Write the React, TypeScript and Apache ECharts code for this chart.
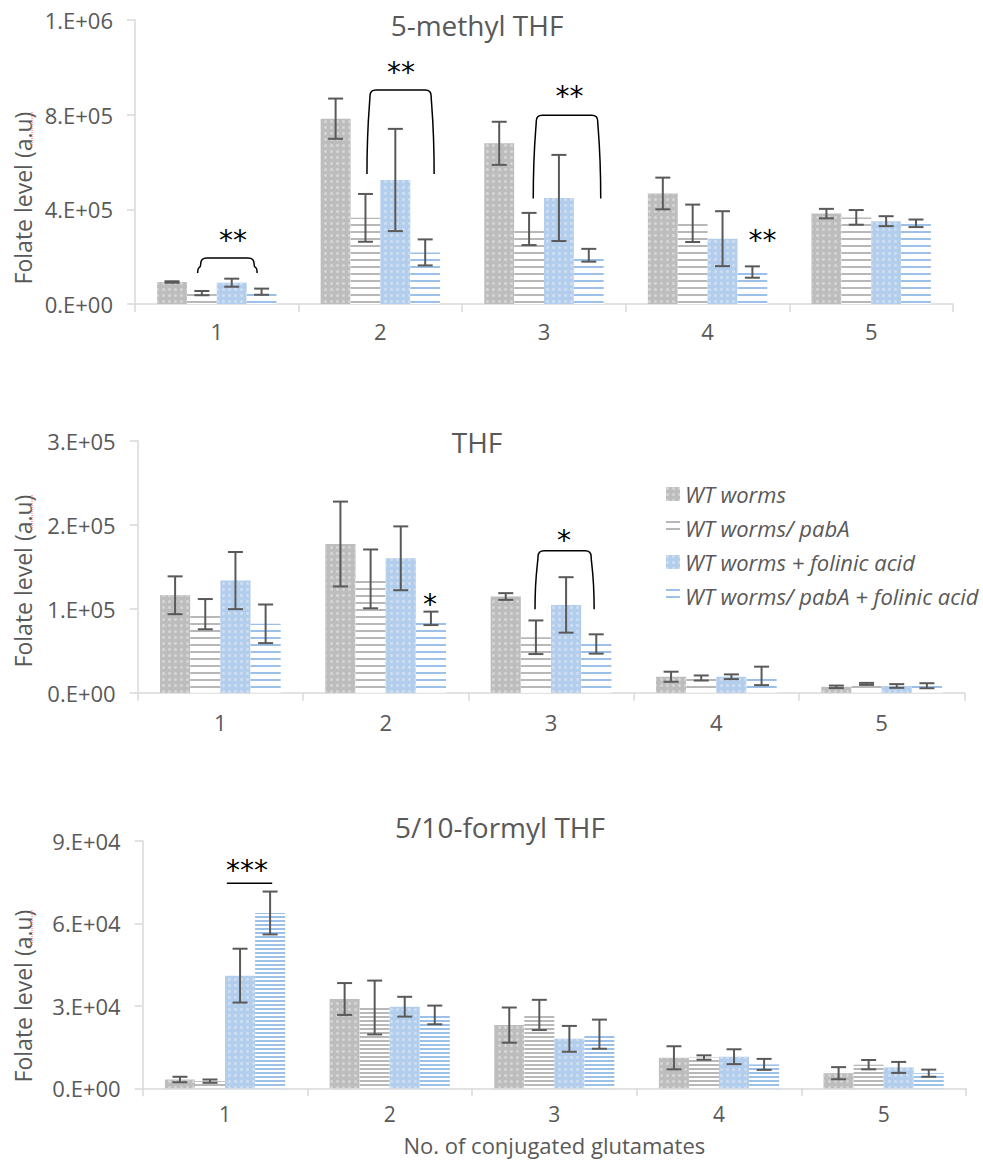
import React, { useEffect, useRef } from 'react';
import * as echarts from 'echarts';

const categories = ['1', '2', '3', '4', '5'];
const seriesNames = ['WT worms', 'WT worms/ pabA', 'WT worms + folinic acid', 'WT worms/ pabA + folinic acid'];
const yTicksMax = [1200000, 300000, 90000];
const yTicksInterval = [400000, 100000, 30000];
const chartTitles = ['5-methyl THF', 'THF', '5/10-formyl THF'];

// 5-methyl THF
const methylWT = [93000, 783000, 679000, 467000, 382000];
const methylWTErr = [3000, 85000, 91000, 67000, 20000];
const methylPabA = [46000, 364000, 317000, 341000, 366000];
const methylPabAErr = [9000, 101000, 68000, 79000, 31000];
const methylFA = [90000, 524000, 448000, 276000, 350000];
const methylFAErr = [17000, 216000, 182000, 116000, 21000];
const methylPabAFA = [52000, 218000, 206000, 135000, 341000];
const methylPabAFAErr = [13000, 55000, 27000, 24000, 16000];

// THF
const thfWT = [116000, 177000, 114500, 19000, 7000];
const thfWTErr = [22500, 50500, 4000, 6000, 1500];
const thfPabA = [93500, 135500, 66000, 17500, 10500];
const thfPabAErr = [18000, 35000, 20000, 3000, 1200];
const thfFA = [133500, 160000, 104500, 19000, 8000];
const thfFAErr = [34000, 38000, 33000, 2800, 2200];
const thfPabAFA = [82000, 88500, 58000, 20000, 8300];
const thfPabAFAErr = [23000, 8000, 11500, 11000, 3000];

// 5/10-formyl THF
const formylWT = [3200, 32500, 23000, 11100, 5500];
const formylWTErr = [1000, 5800, 6400, 4200, 2200];
const formylPabA = [2600, 29400, 26700, 11200, 8600];
const formylPabAErr = [600, 9800, 5500, 800, 1700];
const formylFA = [41000, 29700, 18000, 11500, 7600];
const formylFAErr = [9800, 3600, 4700, 2700, 2000];
const formylPabAFA = [63800, 26700, 19700, 8700, 5500];
const formylPabAFAErr = [7800, 3400, 5300, 2000, 1300];

// significance brackets: [category, from bar, to bar, top value, leg value]
const methylBrackets = [
  [0, 0.86, 2.85, 194000, 131000],
  [1, 1.05, 3.3, 904000, 549000],
  [2, 1.14, 3.4, 798000, 446000],
];
const thfBrackets = [[2, 0.97, 2.93, 169000, 99300]];
const formylBrackets = [[0, 1.56, 3.07, 74600, 74600]];

// significance labels: [category, bar position, value, text]
const methylStars = [
  [0, 2.04, 291000, '**'],
  [1, 2.19, 1001000, '**'],
  [2, 2.35, 900000, '**'],
  [3, 3.34, 291000, '**'],
];
const thfStars = [
  [1, 2.97, 111500, '*'],
  [2, 1.93, 186600, '*'],
];
const formylStars = [[0, 2.23, 81000, '***']];

const BAR_GAP = 0.27;
const TEXT = '#595959';
const AXIS = '#d9d9d9';
const FONT = '"Open Sans", sans-serif';

const layouts = [
  { grid: { left: 135, top: 20, width: 818, height: 284 }, titleX: 477, titleY: 25, nameY: 198, pitch: 6, labelMargin: 16, labelSize: 22 },
  { grid: { left: 137.7, top: 440.7, width: 826.6, height: 252 }, titleX: 477, titleY: 442, nameY: 581, pitch: 6, labelMargin: 18, labelSize: 22 },
  { grid: { left: 142.7, top: 841, width: 823.3, height: 247.3 }, titleX: 500, titleY: 827, nameY: 996, pitch: 3.4, labelMargin: 15, labelSize: 21 },
];

const values = [
  [methylWT, methylPabA, methylFA, methylPabAFA],
  [thfWT, thfPabA, thfFA, thfPabAFA],
  [formylWT, formylPabA, formylFA, formylPabAFA],
];
const errors = [
  [methylWTErr, methylPabAErr, methylFAErr, methylPabAFAErr],
  [thfWTErr, thfPabAErr, thfFAErr, thfPabAFAErr],
  [formylWTErr, formylPabAErr, formylFAErr, formylPabAFAErr],
];
const brackets = [methylBrackets, thfBrackets, formylBrackets];
const stars = [methylStars, thfStars, formylStars];

const sci = (v: number) => {
  if (v === 0) return '0.E+00';
  const e = Math.floor(Math.log10(Math.abs(v)) + 1e-9);
  const m = Math.round(v / Math.pow(10, e));
  return `${m}.E+${String(e).padStart(2, '0')}`;
};

const dotDecal = (c: string) => ({
  symbol: 'circle', symbolSize: 1, color: c, dashArrayX: [2.4, 3], dashArrayY: [2.4, 3], rotation: 0,
});
const lineDecal = (c: string, pitch: number) => ({
  symbol: 'rect', symbolSize: 1, color: c, dashArrayX: [1, 0], dashArrayY: [1.4, pitch - 1.4], rotation: 0,
});

const barStyles = (pitch: number) => [
  { color: '#bdbdbd', decal: dotDecal('#d6d6d6') },
  { color: '#ffffff', decal: lineDecal('#b8b8b8', pitch) },
  { color: '#b3cdec', decal: dotDecal('#cfdff3') },
  { color: '#ffffff', decal: lineDecal('#9dc0e8', pitch) },
];

const barX = (api: any, cat: number, pos: number, v: number) => {
  const catW = api.size([1, 0])[0];
  const barW = (catW * (1 - BAR_GAP)) / 4;
  return api.coord([cat, v])[0] + (pos - 1.5) * barW;
};

const errRender = (_p: any, api: any) => {
  const cat = api.value(0), mean = api.value(1), err = api.value(2), s = api.value(3);
  const x = barX(api, cat, s, mean);
  const yHi = api.coord([cat, mean + err])[1];
  const yLo = api.coord([cat, mean - err])[1];
  const hw = 7.5;
  const style = { stroke: '#595959', lineWidth: 2 };
  return {
    type: 'group',
    children: [
      { type: 'line', shape: { x1: x, y1: yHi, x2: x, y2: yLo }, style },
      { type: 'line', shape: { x1: x - hw, y1: yHi, x2: x + hw, y2: yHi }, style },
      { type: 'line', shape: { x1: x - hw, y1: yLo, x2: x + hw, y2: yLo }, style },
    ],
  };
};

const bracketRender = (_p: any, api: any) => {
  const cat = api.value(0), p1 = api.value(1), p2 = api.value(2), top = api.value(3), leg = api.value(4);
  const xL = barX(api, cat, p1, top);
  const xR = barX(api, cat, p2, top);
  const yT = api.coord([cat, top])[1];
  const yB = api.coord([cat, leg])[1];
  const style = { stroke: '#000', lineWidth: 1.5, fill: 'none' };
  if (yB - yT < 1) {
    return { type: 'line', shape: { x1: xL, y1: yT, x2: xR, y2: yT }, style };
  }
  const f = 3, r = 6;
  const d = `M${xL},${yB} C${xL},${yT + (yB - yT) * 0.4} ${xL + f},${yT + r * 2} ${xL + f},${yT + r} Q${xL + f},${yT} ${xL + f + r},${yT} L${xR - f - r},${yT} Q${xR - f},${yT} ${xR - f},${yT + r} C${xR - f},${yT + r * 2} ${xR},${yT + (yB - yT) * 0.4} ${xR},${yB}`;
  return { type: 'path', shape: { pathData: d }, style };
};

const starRender = (_p: any, api: any) => {
  const cat = api.value(0), pos = api.value(1), v = api.value(2);
  const x = barX(api, cat, pos, v);
  const y = api.coord([cat, v])[1];
  return {
    type: 'text',
    x, y: y + 5,
    style: { text: api.value(3), align: 'center', verticalAlign: 'middle', font: '28px "DejaVu Sans"', fill: '#000' },
  };
};

function buildOption() {
  const grid: any[] = [];
  const xAxis: any[] = [];
  const yAxis: any[] = [];
  const series: any[] = [];
  const graphic: any[] = [];

  layouts.forEach((L, g) => {
    grid.push({ ...L.grid });
    xAxis.push({
      type: 'category', gridIndex: g, data: categories,
      axisLine: { lineStyle: { color: AXIS, width: 1.5 } },
      axisTick: { show: true, length: 8, lineStyle: { color: AXIS, width: 1.5 } },
      axisLabel: { color: TEXT, fontSize: L.labelSize, lineHeight: L.labelSize, fontFamily: FONT, margin: L.labelMargin },
      ...(g === 2 ? {
        name: 'No. of conjugated glutamates', nameLocation: 'middle', nameGap: 46,
        nameTextStyle: { color: TEXT, fontSize: 22, lineHeight: 22, fontFamily: FONT },
      } : {}),
    });
    yAxis.push({
      type: 'value', gridIndex: g, min: 0, max: yTicksMax[g], interval: yTicksInterval[g],
      axisLine: { show: true, lineStyle: { color: AXIS, width: 1.5 } },
      axisTick: { show: true, length: 8, lineStyle: { color: AXIS, width: 1.5 } },
      splitLine: { show: false },
      axisLabel: { color: TEXT, fontSize: 22, fontFamily: FONT, margin: 22, formatter: sci },
    });
    const styles = barStyles(L.pitch);
    values[g].forEach((vals, s) => {
      series.push({
        type: 'bar', name: seriesNames[s], xAxisIndex: g, yAxisIndex: g, data: vals,
        barGap: '0%', barCategoryGap: `${BAR_GAP * 100}%`, itemStyle: styles[s],
      });
    });
    const errData: any[] = [];
    errors[g].forEach((errs, s) => errs.forEach((e, c) => errData.push([c, values[g][s][c], e, s])));
    series.push({
      type: 'custom', name: `err${g}`, xAxisIndex: g, yAxisIndex: g, renderItem: errRender,
      data: errData, encode: { x: 0, y: 1 }, z: 5,
    });
    series.push({
      type: 'custom', name: `sig${g}`, xAxisIndex: g, yAxisIndex: g, renderItem: bracketRender,
      data: brackets[g], encode: { x: 0, y: 3 }, z: 6,
    });
    series.push({
      type: 'custom', name: `star${g}`, xAxisIndex: g, yAxisIndex: g, renderItem: starRender,
      data: stars[g], encode: { x: 0, y: 2 }, z: 6,
    });

    graphic.push({
      type: 'text', x: L.titleX, y: L.titleY,
      style: { text: chartTitles[g], font: `28px ${FONT}`, fill: TEXT, align: 'center', verticalAlign: 'middle' },
    });
    graphic.push({
      type: 'text', x: 23, y: L.nameY, rotation: Math.PI / 2,
      style: { text: 'Folate level (a.u)', font: `23px ${FONT}`, fill: TEXT, align: 'center', verticalAlign: 'middle' },
    });
    graphic.push({
      type: 'line', shape: { x1: 32, y1: L.nameY - 86, x2: 32, y2: L.nameY - 51 },
      style: { stroke: '#ff5a5a', lineWidth: 1, lineDash: [1, 1] },
    });
  });

  return {
    animation: false,
    backgroundColor: '#ffffff',
    grid, xAxis, yAxis, series, graphic,
    legend: {
      data: seriesNames, orient: 'vertical', left: 661, top: 477,
      icon: 'rect', itemWidth: 14, itemHeight: 14, itemGap: 10,
      textStyle: { color: TEXT, fontSize: 22, fontStyle: 'italic', fontFamily: FONT, lineHeight: 24 },
      selectedMode: false,
    },
  };
}

export default function App() {
  const ref = useRef<HTMLDivElement>(null);
  useEffect(() => {
    if (!ref.current) return;
    const chart = echarts.init(ref.current, null, { renderer: 'svg' });
    chart.setOption(buildOption() as any);
    return () => chart.dispose();
  }, []);
  return (
    <div
      ref={ref}
      style={{ position: 'fixed', left: 0, top: 0, width: 983, height: 1161, background: '#fff' }}
    />
  );
}
